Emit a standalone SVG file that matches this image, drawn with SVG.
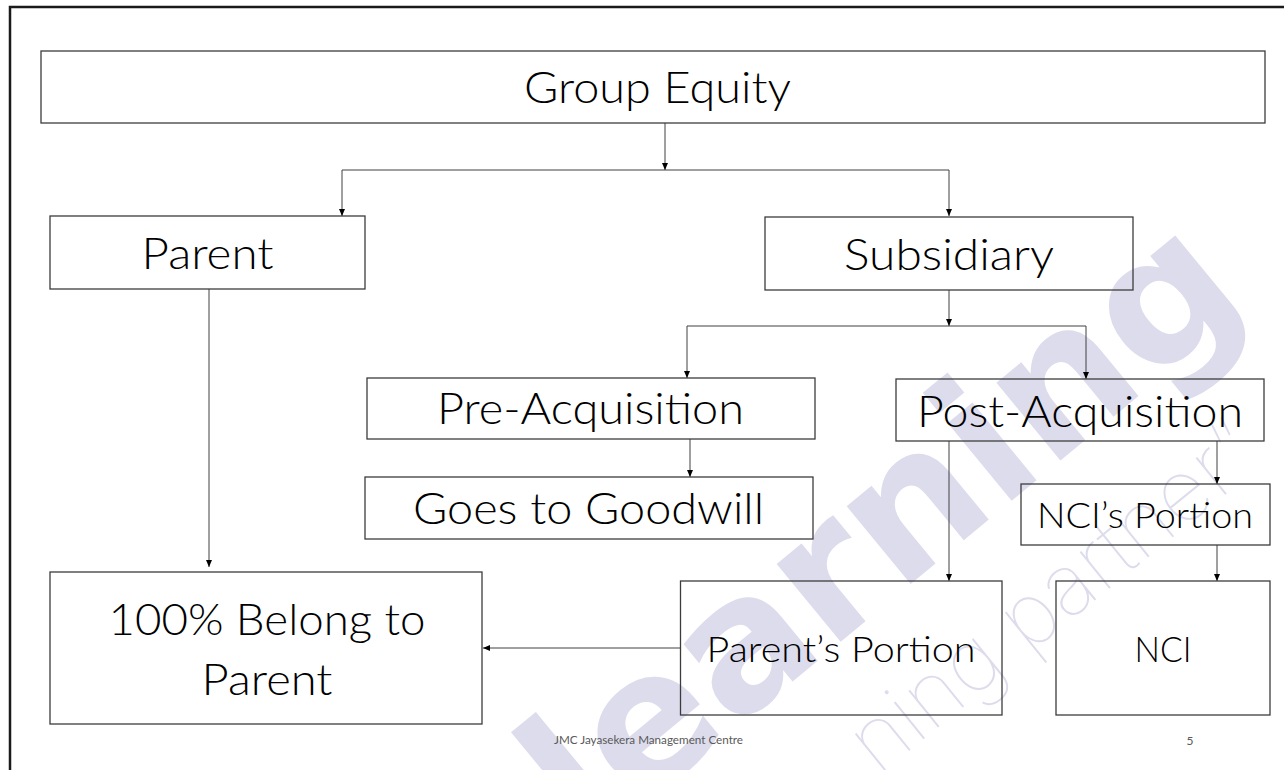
<svg xmlns="http://www.w3.org/2000/svg" width="1284" height="770" viewBox="0 0 1284 770">
<defs>
<marker id="arr" markerUnits="userSpaceOnUse" markerWidth="7" markerHeight="6" refX="7" refY="3" orient="auto">
<path d="M0,0 L7,3 L0,6 z" fill="#000"/>
</marker>
<style>
.box{fill:none;stroke:#3c3c3c;stroke-width:1.3}
.lbl{font-family:Lato,"Liberation Sans",sans-serif;font-weight:300;fill:#000;text-anchor:middle}
.big{font-size:44px}
.mid{font-size:35px}
.con{fill:none;stroke:#404040;stroke-width:1;marker-end:url(#arr)}
.wm{fill:#dcdcec}
.foot{font-family:Lato,"Liberation Sans",sans-serif;font-size:12px;fill:#595959;text-anchor:middle}
</style>
</defs>
<rect width="1284" height="770" fill="#fff"/>
<g id="watermark">
<text class="wm" transform="translate(588,850) rotate(-39.5)" font-family="'DejaVu Sans',sans-serif" font-weight="bold" font-size="184">learning</text>
<text class="wm" transform="translate(878,776) rotate(-39)" font-family="Inter,'DejaVu Sans',sans-serif" font-weight="100" font-size="86">ning partner”</text>
</g>
<path d="M10,770 V7 H1284" fill="none" stroke="#1a1a1a" stroke-width="2.5"/>
<g id="connectors">
<path class="con" d="M665,123 V170"/>
<path class="con" d="M665,170 H342 V216"/>
<path class="con" d="M665,170 H949 V216"/>
<path class="con" d="M949,290 V326"/>
<path class="con" d="M949,326 H687 V378"/>
<path class="con" d="M949,326 H1086 V379"/>
<path class="con" d="M690,439 V477"/>
<path class="con" d="M949,441 V581"/>
<path class="con" d="M1217,441 V484"/>
<path class="con" d="M1217,545 V581"/>
<path class="con" d="M209,289 V567"/>
<path class="con" d="M680,648 H483"/>
</g>
<g id="group-equity">
<rect class="box" x="41" y="51" width="1224" height="72"/>
<text class="lbl big" x="657.5" y="103" textLength="267" lengthAdjust="spacingAndGlyphs">Group Equity</text>
</g>
<g id="parent">
<rect class="box" x="50" y="216" width="315" height="73"/>
<text class="lbl big" x="207.5" y="269" textLength="132" lengthAdjust="spacingAndGlyphs">Parent</text>
</g>
<g id="subsidiary">
<rect class="box" x="765" y="217" width="368" height="73"/>
<text class="lbl big" x="949" y="270" textLength="210" lengthAdjust="spacingAndGlyphs">Subsidiary</text>
</g>
<g id="pre-acquisition">
<rect class="box" x="367" y="378" width="448" height="61"/>
<text class="lbl big" x="590.5" y="424" textLength="307" lengthAdjust="spacingAndGlyphs">Pre-Acquisition</text>
</g>
<g id="post-acquisition">
<rect class="box" x="896" y="379" width="368" height="62"/>
<text class="lbl big" x="1080" y="427" textLength="326" lengthAdjust="spacingAndGlyphs">Post-Acquisition</text>
</g>
<g id="goodwill">
<rect class="box" x="365" y="477" width="448" height="62"/>
<text class="lbl big" x="588.5" y="524" textLength="351" lengthAdjust="spacingAndGlyphs">Goes to Goodwill</text>
</g>
<g id="nci-portion">
<rect class="box" x="1021" y="484" width="249" height="61"/>
<text class="lbl mid" x="1145" y="528" textLength="216" lengthAdjust="spacingAndGlyphs">NCI’s Portion</text>
</g>
<g id="belong-parent">
<rect class="box" x="50" y="572" width="432" height="152"/>
<text class="lbl big" x="267" y="635" textLength="317" lengthAdjust="spacingAndGlyphs">100% Belong to</text>
<text class="lbl big" x="267" y="695" textLength="131" lengthAdjust="spacingAndGlyphs">Parent</text>
</g>
<g id="parent-portion">
<rect class="box" x="680.5" y="581" width="321.5" height="134"/>
<text class="lbl mid" x="841" y="662" textLength="269" lengthAdjust="spacingAndGlyphs">Parent’s Portion</text>
</g>
<g id="nci">
<rect class="box" x="1056" y="581" width="214" height="134"/>
<text class="lbl mid" x="1163" y="662" textLength="57" lengthAdjust="spacingAndGlyphs">NCI</text>
</g>
<g id="footer">
<text class="foot" x="648.5" y="744" textLength="189" lengthAdjust="spacingAndGlyphs">JMC Jayasekera Management Centre</text>
<text class="foot" x="1190" y="745">5</text>
</g>
</svg>
